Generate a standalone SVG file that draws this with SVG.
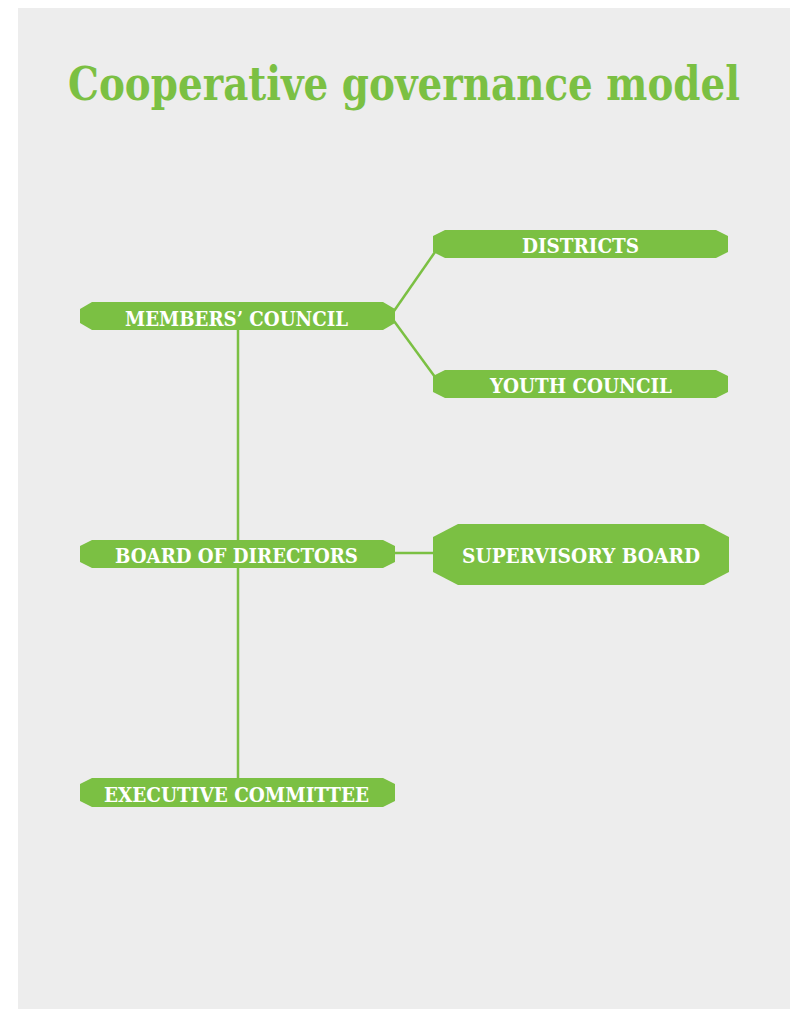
<svg xmlns="http://www.w3.org/2000/svg" width="798" height="1009" viewBox="0 0 798 1009">
<style>
.bg{fill:#ffffff}
.panel{fill:#ededed}
.title{font-family:"DejaVu Serif Condensed","DejaVu Serif","Liberation Serif",serif;font-stretch:condensed;font-weight:bold;font-size:46px;fill:#7bc043}
.box{fill:#7bc043}
.lbl{font-family:"DejaVu Serif Condensed","DejaVu Serif","Liberation Serif",serif;font-stretch:condensed;font-weight:bold;font-size:21px;fill:#ffffff;text-anchor:middle}
.conn{stroke:#7bc043;stroke-width:2.5;fill:none}
</style>
<rect class="bg" x="0" y="0" width="798" height="1009"/>
<rect class="panel" x="18" y="8" width="772" height="1001"/>
<g id="title">
<text class="title" x="68" y="100" textLength="672" lengthAdjust="spacingAndGlyphs">Cooperative governance model</text>
</g>
<g id="connectors">
<line class="conn" x1="238" y1="330" x2="238" y2="778"/>
<line class="conn" x1="394" y1="311" x2="435" y2="252"/>
<line class="conn" x1="394" y1="321" x2="435" y2="377"/>
<line class="conn" x1="395" y1="553" x2="433" y2="553"/>
</g>
<g id="members-council">
<path class="box" d="M92,302 H383 L395,309 V323 L383,330 H92 L80,323 V309 Z"/>
<text class="lbl" x="236.5" y="326" textLength="223" lengthAdjust="spacingAndGlyphs">MEMBERS’ COUNCIL</text>
</g>
<g id="districts">
<path class="box" d="M445,230 H716 L728,236 V252 L716,258 H445 L433,252 V236 Z"/>
<text class="lbl" x="580.5" y="253" textLength="117" lengthAdjust="spacingAndGlyphs">DISTRICTS</text>
</g>
<g id="youth-council">
<path class="box" d="M445,370 H716 L728,376 V392 L716,398 H445 L433,392 V376 Z"/>
<text class="lbl" x="581" y="393" textLength="182" lengthAdjust="spacingAndGlyphs">YOUTH COUNCIL</text>
</g>
<g id="board-of-directors">
<path class="box" d="M92,540 H383 L395,546 V562 L383,568 H92 L80,562 V546 Z"/>
<text class="lbl" x="236.5" y="563" textLength="243" lengthAdjust="spacingAndGlyphs">BOARD OF DIRECTORS</text>
</g>
<g id="supervisory-board">
<path class="box" d="M458,524 H704 L729,537 V572 L704,585 H458 L433,572 V537 Z"/>
<text class="lbl" x="581" y="563" textLength="238" lengthAdjust="spacingAndGlyphs">SUPERVISORY BOARD</text>
</g>
<g id="executive-committee">
<path class="box" d="M92,778 H383 L395,784 V801 L383,807 H92 L80,801 V784 Z"/>
<text class="lbl" x="236.5" y="802" textLength="265" lengthAdjust="spacingAndGlyphs">EXECUTIVE COMMITTEE</text>
</g>
</svg>
